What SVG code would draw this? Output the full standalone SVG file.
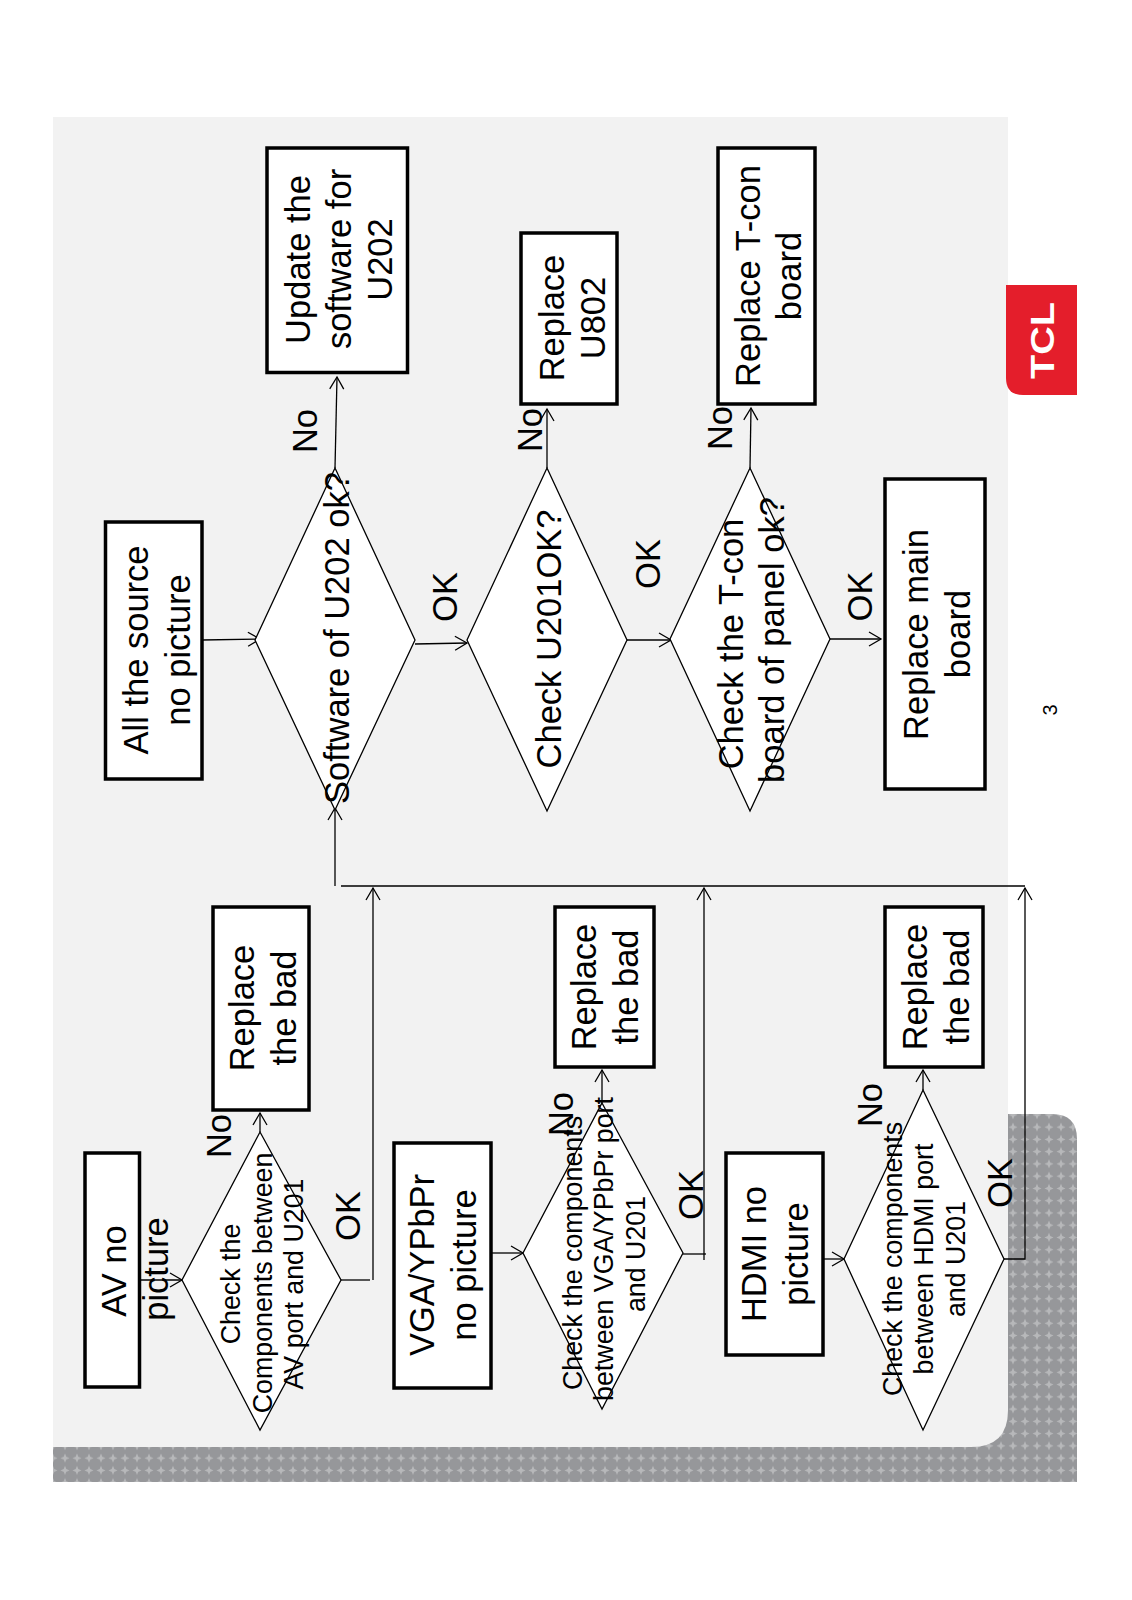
<svg xmlns="http://www.w3.org/2000/svg" width="1132" height="1600" viewBox="0 0 1132 1600">
<style>
text{font-family:"Liberation Sans",Arial,sans-serif;fill:#000;text-anchor:middle}
.b{font-size:34.5px}.m{font-size:26.8px}
.box{fill:#fff;stroke:#000;stroke-width:3.5}
.dia{fill:#fff;stroke:#000;stroke-width:1.3}
.c{fill:none;stroke:#000;stroke-width:1.3}
.a{marker-end:url(#arr)}
</style>
<defs>
<marker id="arr" markerUnits="userSpaceOnUse" markerWidth="24" markerHeight="24" refX="17" refY="12" orient="auto" overflow="visible"><path d="M5 5L17 12L5 19" fill="none" stroke="#000" stroke-width="1.3"/></marker>
<pattern id="dots" patternUnits="userSpaceOnUse" width="12" height="12.26" x="1007" y="1121"><rect width="12" height="12.26" fill="#96979a"/><path d="M6 1.5L7.3 4.7L10.5 6.1L7.3 7.5L6 10.7L4.7 7.5L1.5 6.1L4.7 4.7Z" fill="#b7b8ba"/></pattern>
</defs>
<g id="background">
<path d="M53 1380H1008V1114H1052Q1077 1114 1077 1139V1482H53Z" fill="url(#dots)"/>
<path d="M53 117H1008V1410Q1008 1447 971 1447H53Z" fill="#f2f2f2"/>
<path d="M1006 285H1077V395H1023Q1006 395 1006 378Z" fill="#e41e2b"/>
<text transform="translate(1054 340.5) rotate(-90)" textLength="77" lengthAdjust="spacingAndGlyphs" style="font-size:34px;font-weight:bold;fill:#fff">TCL</text>
<text transform="translate(1057 710) rotate(-90)" style="font-size:20px">3</text>
</g>
<g id="connectors">
<path class="c a" d="M141 1280H182"/>
<path class="c a" d="M260 1132V1113"/>
<path class="c" d="M341 1280H370"/>
<path class="c a" d="M373 1280V888"/>
<path class="c a" d="M491 1253H523"/>
<path class="c a" d="M602 1103V1070"/>
<path class="c" d="M683 1254H706"/>
<path class="c a" d="M704 1260V888"/>
<path class="c a" d="M823 1259H844"/>
<path class="c a" d="M923 1090V1070"/>
<path class="c a" d="M1004 1259H1025V888"/>
<path class="c" d="M341 886H1025"/>
<path class="c a" d="M335 886L335 808"/>
<path class="c a" d="M202 640L260 639"/>
<path class="c a" d="M415 644L467 643"/>
<path class="c a" d="M627 640H671"/>
<path class="c a" d="M830 639H881"/>
<path class="c a" d="M335 468L337 377"/>
<path class="c a" d="M547 468V409"/>
<path class="c a" d="M750 468L751 408"/>
</g>
<g id="av-box"><rect class="box" x="85" y="1153" width="54.5" height="234"/><text class="b" transform="translate(126 1271) rotate(-90)">AV no</text><text class="b" transform="translate(168 1269) rotate(-90)">picture</text></g>
<g id="av-dia"><path class="dia" d="M260 1132L341 1280L260 1430L182 1280Z"/><text class="m" transform="translate(240 1284) rotate(-90)">Check the</text><text class="m" transform="translate(272 1283) rotate(-90)">Components between</text><text class="m" transform="translate(303 1284) rotate(-90)">AV port and U201</text></g>
<g id="av-rep"><rect class="box" x="213" y="907" width="96" height="203"/><text class="b" transform="translate(254 1008) rotate(-90)">Replace</text><text class="b" transform="translate(296 1008) rotate(-90)">the bad</text></g>
<g id="vga-box"><rect class="box" x="394" y="1143" width="97" height="245"/><text class="b" transform="translate(434 1265) rotate(-90)">VGA/YPbPr</text><text class="b" transform="translate(476 1265) rotate(-90)">no picture</text></g>
<g id="vga-dia"><path class="dia" d="M602 1103L683 1253L602 1409L523 1253Z"/><text class="m" transform="translate(582 1253) rotate(-90)">Check the components</text><text class="m" transform="translate(613 1249) rotate(-90)">between VGA/YPbPr port</text><text class="m" transform="translate(645 1254) rotate(-90)">and U201</text></g>
<g id="vga-rep"><rect class="box" x="555" y="907" width="99" height="160"/><text class="b" transform="translate(596 987) rotate(-90)">Replace</text><text class="b" transform="translate(638 987) rotate(-90)">the bad</text></g>
<g id="hdmi-box"><rect class="box" x="726" y="1153" width="97" height="202"/><text class="b" transform="translate(766 1254) rotate(-90)">HDMI no</text><text class="b" transform="translate(808 1254) rotate(-90)">picture</text></g>
<g id="hdmi-dia"><path class="dia" d="M923 1090L1004 1259L923 1430L844 1259Z"/><text class="m" transform="translate(902 1259) rotate(-90)">Check the components</text><text class="m" transform="translate(933 1259) rotate(-90)">between HDMI port</text><text class="m" transform="translate(965 1259) rotate(-90)">and U201</text></g>
<g id="hdmi-rep"><rect class="box" x="885" y="907" width="98" height="160"/><text class="b" transform="translate(927 987) rotate(-90)">Replace</text><text class="b" transform="translate(969 987) rotate(-90)">the bad</text></g>
<g id="all-box"><rect class="box" x="105.500" y="522" width="96.500" height="257"/><text class="b" transform="translate(148 650) rotate(-90)">All the source</text><text class="b" transform="translate(190 650) rotate(-90)">no picture</text></g>
<g id="sw-dia"><path class="dia" d="M335 468L415 640L335 810L255 640Z"/><text class="b" transform="translate(349 638) rotate(-90)">Software of U202 ok?</text></g>
<g id="u201-dia"><path class="dia" d="M547 468L627 640L547 811L467 640Z"/><text class="b" transform="translate(561 639) rotate(-90)">Check U201OK?</text></g>
<g id="tcon-dia"><path class="dia" d="M750 468L830 639L750 811L670 639Z"/><text class="b" transform="translate(743 644) rotate(-90)">Check the T-con</text><text class="b" transform="translate(784 640) rotate(-90)">board of panel ok?</text></g>
<g id="main"><rect class="box" x="885" y="479" width="100" height="310"/><text class="b" transform="translate(928 634.500) rotate(-90)">Replace main</text><text class="b" transform="translate(970 634) rotate(-90)">board</text></g>
<g id="update"><rect class="box" x="267" y="148" width="140.500" height="224.500"/><text class="b" transform="translate(310 259.500) rotate(-90)">Update the</text><text class="b" transform="translate(351 259) rotate(-90)">software for</text><text class="b" transform="translate(392 259.500) rotate(-90)">U202</text></g>
<g id="u802"><rect class="box" x="521" y="233" width="96" height="171"/><text class="b" transform="translate(564 318) rotate(-90)">Replace</text><text class="b" transform="translate(605 318) rotate(-90)">U802</text></g>
<g id="tconrep"><rect class="box" x="718" y="148" width="97" height="256"/><text class="b" transform="translate(760 276) rotate(-90)">Replace T-con</text><text class="b" transform="translate(801 276) rotate(-90)">board</text></g>
<g id="labels">
<text class="b" transform="translate(231 1136) rotate(-90)">No</text>
<text class="b" transform="translate(360 1216) rotate(-90)">OK</text>
<text class="b" transform="translate(573 1114) rotate(-90)">No</text>
<text class="b" transform="translate(703 1195) rotate(-90)">OK</text>
<text class="b" transform="translate(882 1105) rotate(-90)">No</text>
<text class="b" transform="translate(1012 1183) rotate(-90)">OK</text>
<text class="b" transform="translate(317 431) rotate(-90)">No</text>
<text class="b" transform="translate(542 430) rotate(-90)">No</text>
<text class="b" transform="translate(732 428) rotate(-90)">No</text>
<text class="b" transform="translate(457 597) rotate(-90)">OK</text>
<text class="b" transform="translate(660 564) rotate(-90)">OK</text>
<text class="b" transform="translate(872 596.500) rotate(-90)">OK</text>
</g>
</svg>
